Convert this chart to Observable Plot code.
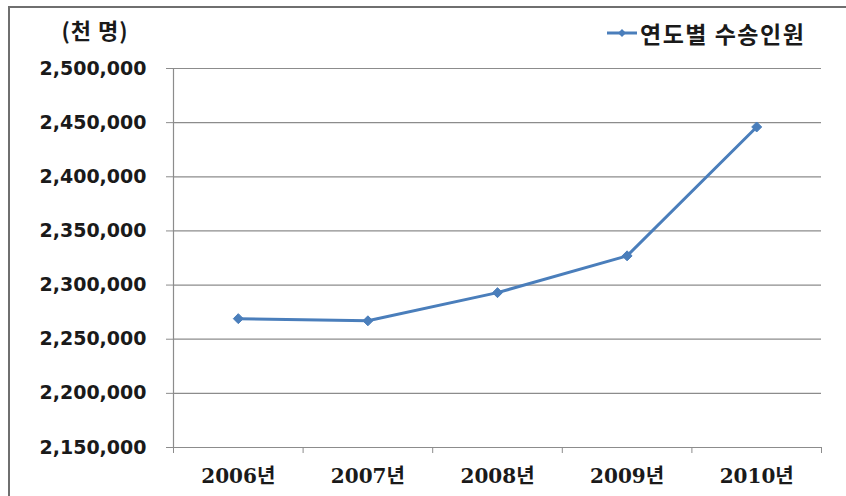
<!DOCTYPE html>
<html>
<head>
<meta charset="utf-8">
<script src="https://cdn.jsdelivr.net/npm/d3@7"></script>
<script src="https://cdn.jsdelivr.net/npm/@observablehq/plot@0.6"></script>
<style>
  html, body { margin: 0; padding: 0; background: #fff; overflow: hidden; }
  #wrap { position: relative; width: 846px; height: 496px; overflow: hidden; background: #fff; }
  #frame { position: absolute; left: 8px; top: 6px; width: 1000px; height: 1000px; border: 2px solid #6f6f6f; box-sizing: border-box; pointer-events: none; }
  #unit { position: absolute; left: 45px; width: 100px; top: 13px; text-align: center; font: bold 22px "Noto Sans CJK KR", "DejaVu Sans", sans-serif; letter-spacing: 1px; color: #1a1a1a; }
  #legend { position: absolute; left: 606px; top: 16px; display: flex; align-items: center; font: bold 23px "Noto Sans CJK KR", sans-serif; letter-spacing: 1.5px; color: #1a1a1a; }
  #chart { position: absolute; left: 0; top: 0; }
  #chart svg text { fill: #1a1a1a; }
  #chart g[aria-label^="y-axis"] text { font: bold 19px "DejaVu Sans", sans-serif; }
</style>
</head>
<body>
<div id="wrap">
  <div id="chart"></div>
  <div id="frame"></div>
  <div id="unit"></div>
  <div id="legend"></div>
</div>
<script>
const categories = ["2006년", "2007년", "2008년", "2009년", "2010년"];
const values = [2269000, 2267000, 2293000, 2327000, 2446000];
const yTicks = [2150000, 2200000, 2250000, 2300000, 2350000, 2400000, 2450000, 2500000];
const seriesName = "연도별 수송인원";
const unitLabel = "(천 명)";

const lineColor = "#4a7ebb";
const gridColor = "#8c8c8c";

const data = categories.map((c, i) => ({i: i + 0.5, cat: c, v: values[i]}));
const bounds = d3.range(categories.length + 1);

const chart = Plot.plot({
  width: 846,
  height: 496,
  marginLeft: 173,
  marginRight: 25,
  marginTop: 68,
  marginBottom: 49,
  style: {color: gridColor, background: "transparent", overflow: "visible"},
  x: {type: "linear", domain: [0, categories.length], ticks: bounds, tickFormat: () => "", tickSize: 6, label: null},
  y: {domain: [yTicks[0], yTicks[yTicks.length - 1]], ticks: yTicks, tickFormat: d3.format(","), tickSize: 7, tickPadding: 20, label: null},
  marks: [
    Plot.ruleY(yTicks, {stroke: gridColor, strokeWidth: 1.2}),
    Plot.ruleX([0], {stroke: gridColor, strokeWidth: 1.2}),
    Plot.line(data, {x: "i", y: "v", stroke: lineColor, strokeWidth: 3}),
    Plot.dot(data, {x: "i", y: "v", symbol: "diamond2", r: 4.5, fill: lineColor, stroke: lineColor, strokeWidth: 1}),
    Plot.text(data, {x: "i", y: () => yTicks[0], text: "cat", dy: 29, fontSize: 20, fontWeight: "bold", fontFamily: "'DejaVu Serif', 'Noto Sans CJK KR', serif", fill: "#1a1a1a"})
  ]
});
document.getElementById("chart").appendChild(chart);

document.getElementById("unit").textContent = unitLabel;
const leg = document.getElementById("legend");
leg.innerHTML = `<svg width="32" height="12" style="margin-right:2px"><line x1="1" y1="6" x2="31" y2="6" stroke="${lineColor}" stroke-width="3"/><path d="M16,2 L20,6 L16,10 L12,6 Z" fill="${lineColor}"/></svg><span></span>`;
leg.querySelector("span").textContent = seriesName;
</script>
</body>
</html>
